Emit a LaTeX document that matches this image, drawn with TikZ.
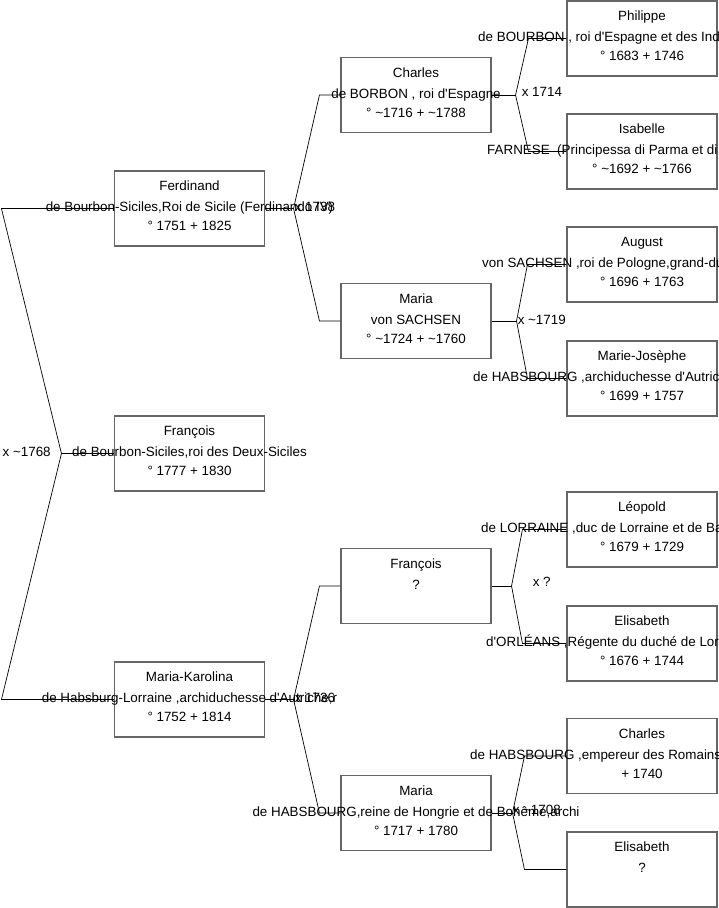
\documentclass[tikz,border=0pt]{standalone}
\usepackage{fontspec}
\newfontfamily\gfont{Liberation Sans}
\usetikzlibrary{calc}
\definecolor{boxgray}{HTML}{666666}
\newcommand\abt{\textasciitilde}

\begin{document}
\begin{tikzpicture}[x=1pt,y=-1pt,font=\gfont\fontsize{13.4}{16}\selectfont,
    box/.style={draw=boxgray,line width=1.1pt,minimum width=150pt,minimum height=75pt,inner sep=0pt},
    txt/.style={inner sep=0pt,text height=9pt,text depth=3pt},
    lnk/.style={line width=0.7pt}]
  \useasboundingbox (0,0) rectangle (719,908);
  \clip (0,0) rectangle (719,908);
  \fill[white] (0,0) rectangle (719,908);
  % generation 1
  \node[box](ferdinand) at (189.5,208.5){};
  \node[box](francois) at (189.5,453.5){};
  \node[box](mariak) at (189.5,699.5){};
  % generation 2
  \node[box](charles) at (416,95){};
  \node[box](mariasax) at (416,321){};
  \node[box](francoisl) at (416,586){};
  \node[box](mariath) at (416,813){};
  % generation 3
  \node[box](philippe) at (642,38.5){};
  \node[box](isabelle) at (642,151.5){};
  \node[box](august) at (642,264.5){};
  \node[box](mariejos) at (642,378.5){};
  \node[box](leopold) at (642,529.5){};
  \node[box](elisabetho) at (642,643.5){};
  \node[box](charlesh) at (642,756){};
  \node[box](elisabethh) at (642,869.5){};
  % first and last line of each box
  \foreach \n/\a/\c in {ferdinand/Ferdinand/{° 1751 + 1825},francois/François/{° 1777 + 1830},
      mariak/Maria-Karolina/{° 1752 + 1814},charles/Charles/{° \abt1716 + \abt1788},
      mariasax/Maria/{° \abt1724 + \abt1760},francoisl/François/{},mariath/Maria/{° 1717 + 1780},
      philippe/Philippe/{° 1683 + 1746},isabelle/Isabelle/{° \abt1692 + \abt1766},
      august/August/{° 1696 + 1763},mariejos/Marie-Josèphe/{° 1699 + 1757},
      leopold/Léopold/{° 1679 + 1729},elisabetho/Elisabeth/{° 1676 + 1744},
      charlesh/Charles/{+ 1740},elisabethh/Elisabeth/{}}{
    \node[txt] at ([yshift=21pt]\n.center){\a};
    \node[txt] at ([yshift=-19pt]\n.center){\c};}
  % middle lines
  \foreach \n/\b in {ferdinand/{de Bourbon-Siciles,Roi de Sicile (Ferdinando IV)},
      francois/{de Bourbon-Siciles,roi des Deux-Siciles},
      mariak/{de Habsburg-Lorraine ,archiduchesse d'Autriche,r},
      charles/{de BORBON , roi d'Espagne},mariasax/{von SACHSEN},francoisl/?,
      mariath/{de HABSBOURG,reine de Hongrie et de Bohême,archi},elisabethh/?}
    {\node[txt] at (\n.center){\b};}
  \foreach \n/\dx/\b in {philippe/-164/{de BOURBON , roi d'Espagne et des Ind},
      isabelle/-155/{FARNESE\ \ (Principessa di Parma et di},
      august/-160/{von SACHSEN ,roi de Pologne,grand-du},
      mariejos/-169/{de HABSBOURG ,archiduchesse d'Autric},
      leopold/-161/{de LORRAINE ,duc de Lorraine et de Ba},
      elisabetho/-156/{d'ORLÉANS ,Régente du duché de Lor},
      charlesh/-172/{de HABSBOURG ,empereur des Romains}}
    {\node[txt,anchor=west] at ([xshift=\dx pt]\n.center){\b};}
  % marriage forks
  \coordinate (root-m) at ([xshift=-52.5pt]francois.west);
  \draw[lnk] (francois.west) -- (root-m);
  \draw[lnk] (ferdinand.west) -- ([xshift=-112.5pt]ferdinand.west) -- (root-m)
    -- ([xshift=-112.5pt]mariak.west) -- (mariak.west);
  \node[txt,anchor=west] at ([xshift=-59pt]root-m){x \abt1768};
  \foreach \k/\f/\m/\ax/\d/\lx/\ly/\lab in {ferdinand/charles/mariasax/28.5/21/1/0/{x 1738},
      mariak/francoisl/mariath/28.5/21/1/0/{x 1736},
      charles/philippe/isabelle/24/38/6/2/{x 1714},
      mariasax/august/mariejos/25/39/1/0/{x \abt1719},
      francoisl/leopold/elisabetho/20/44/21/3/{x ?},
      mariath/charlesh/elisabethh/21/42/0/2/{x \abt1708}}{
    \coordinate (\k-m) at ([xshift=\ax pt]\k.east);
    \draw[lnk] (\k.east) -- (\k-m);
    \draw[lnk] (\f.west) -- ([xshift=-\d pt]\f.west) -- (\k-m)
      -- ([xshift=-\d pt]\m.west) -- (\m.west);
    \node[txt,anchor=west] at ([xshift=\lx pt,yshift=\ly pt]\k-m){\lab};}
\end{tikzpicture}
\end{document}
